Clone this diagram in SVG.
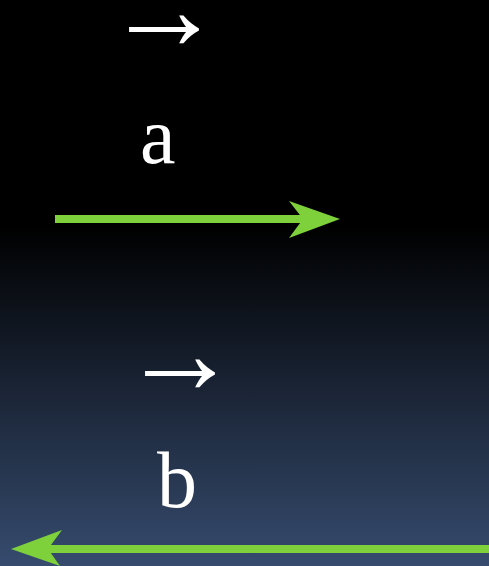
<svg xmlns="http://www.w3.org/2000/svg" width="489" height="566" viewBox="0 0 489 566">
<defs>
<linearGradient id="bg" x1="0" y1="0" x2="0" y2="566" gradientUnits="userSpaceOnUse">
<stop offset="0" stop-color="#000000"/>
<stop offset="0.4" stop-color="#000000"/>
<stop offset="1" stop-color="#364b6e"/>
</linearGradient>
<style>
.t{font-family:"Liberation Serif","Times New Roman",serif;font-size:80px;fill:#ffffff}
.ar{font-size:118px}
.g{fill:#7ed13b}
</style>
</defs>
<rect width="489" height="566" fill="url(#bg)"/>
<g id="vector-a">
<text class="t ar" x="105" y="49">→</text>
<text class="t" x="140" y="163">a</text>
</g>
<g id="vector-b">
<text class="t ar" x="121" y="393">→</text>
<text class="t" x="157" y="507">b</text>
</g>
<g id="connectors">
<g id="arrow-a">
<rect class="g" x="55" y="215" width="250" height="8"/>
<polygon class="g" points="340,219 289,201 303,219 289,238"/>
</g>
<g id="arrow-b">
<rect class="g" x="45" y="545" width="444" height="8"/>
<polygon class="g" points="11,549 62,530 48,549 60,566"/>
</g>
</g>
</svg>
